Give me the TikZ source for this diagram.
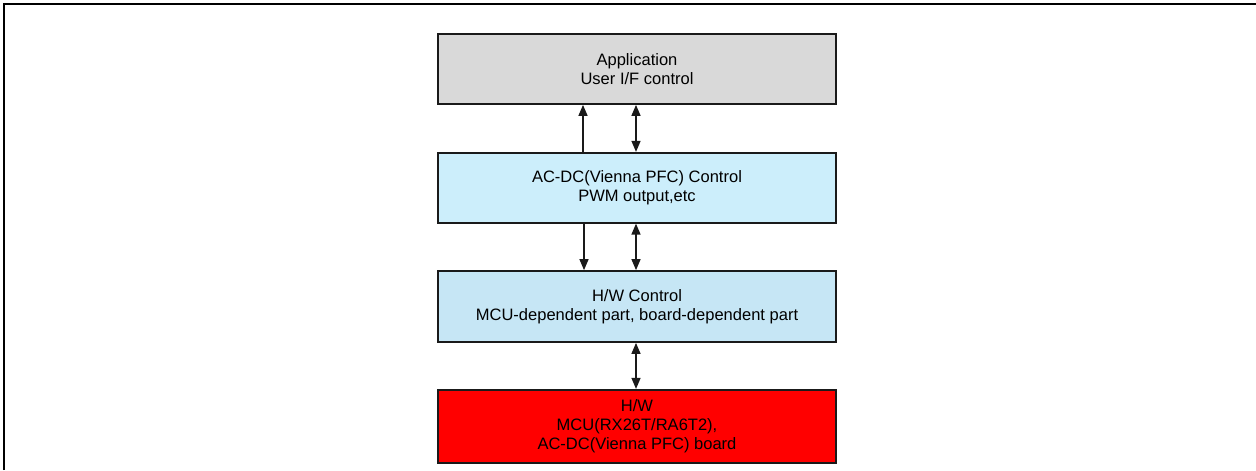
\documentclass[tikz,border=0pt]{standalone}
\usepackage{fontspec}
\setmainfont{Liberation Sans}
\usetikzlibrary{positioning,arrows.meta}
\definecolor{appgray}{HTML}{D9D9D9}
\definecolor{ctlblue}{HTML}{CCEEFB}
\definecolor{hwblue}{HTML}{C6E6F5}
\definecolor{hwred}{HTML}{FF0000}
\definecolor{edge}{HTML}{1A1A1A}

\begin{document}
\begin{tikzpicture}[
  layer/.style={draw=edge,line width=1pt,minimum width=7.96cm,minimum height=1.4cm,align=center,font=\fontsize{9.4pt}{10.9pt}\selectfont,inner sep=0pt},
  arr/.style={-{Triangle[length=2.2mm,width=1.8mm]},line width=0.8pt,draw=edge},
  dbl/.style={{Triangle[length=2.2mm,width=1.8mm]}-{Triangle[length=2.2mm,width=1.8mm]},line width=0.8pt,draw=edge}
]
\useasboundingbox (0,0) rectangle (25.12,9.4);
\draw[line width=1.4pt] (0.08,0) |- (25.12,9.32);
\node[layer,fill=appgray] (app) at (12.74,8.02) {Application\\User I/F control};
\node[layer,fill=ctlblue,below=0.94cm of app] (ctl) {AC-DC(Vienna PFC) Control\\PWM output,etc};
\node[layer,fill=hwblue,below=0.93cm of ctl,minimum height=1.42cm] (hwc) {H/W Control\\MCU-dependent part, board-dependent part};
\node[layer,fill=hwred,below=0.92cm of hwc,minimum height=1.46cm] (hw) {H/W\\MCU(RX26T/RA6T2),\\AC-DC(Vienna PFC) board};
\draw[arr] ([xshift=-1.08cm]ctl.north) -- ([xshift=-1.08cm]app.south);
\draw[dbl] ([xshift=-0.02cm]ctl.north) -- ([xshift=-0.02cm]app.south);
\draw[arr] ([xshift=-1.06cm]ctl.south) -- ([xshift=-1.06cm]hwc.north);
\draw[dbl] ([xshift=-0.02cm]ctl.south) -- ([xshift=-0.02cm]hwc.north);
\draw[dbl] ([xshift=-0.02cm]hwc.south) -- ([xshift=-0.02cm]hw.north);
\end{tikzpicture}
\end{document}
